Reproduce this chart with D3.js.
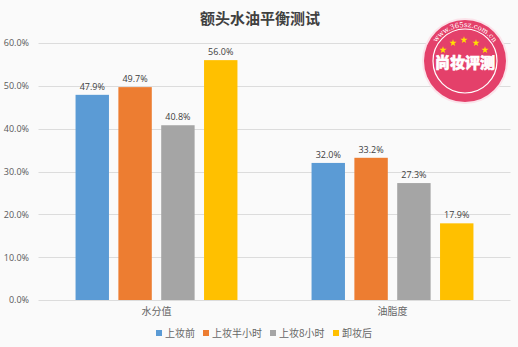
<!DOCTYPE html>
<html><head><meta charset="utf-8">
<script src="https://cdn.jsdelivr.net/npm/d3@7"></script>
<style>
html,body{margin:0;padding:0;background:#fafafa;}
svg{display:block;font-family:"Noto Sans CJK SC","Microsoft YaHei",sans-serif;}
</style></head><body>
<svg id="c" width="518" height="347"></svg>
<script>
const categories = ["水分值", "油脂度"];
const seriesNames = ["上妆前", "上妆半小时", "上妆8小时", "卸妆后"];
const seriesColors = ["#5B9BD5", "#ED7D31", "#A5A5A5", "#FFC000"];
const values上妆前 = [47.9, 32.0];
const values上妆半小时 = [49.7, 33.2];
const values上妆8小时 = [40.8, 27.3];
const values卸妆后 = [56.0, 17.9];
const yTicks = [0, 10, 20, 30, 40, 50, 60];
const title = "额头水油平衡测试";

const seriesValues = [values上妆前, values上妆半小时, values上妆8小时, values卸妆后];
const data = [];
categories.forEach((c, ci) => seriesNames.forEach((s, si) => data.push({cat: c, ser: s, val: seriesValues[si][ci], color: seriesColors[si]})));

const svg = d3.select("#c");
svg.append("rect").attr("width", 518).attr("height", 347).attr("fill", "#fafafa");

const pLeft = 38.5, pRight = 510.5, pTop = 43, pBottom = 300;
const y = d3.scaleLinear().domain([0, 60]).range([pBottom, pTop]);
const x0 = d3.scaleBand().domain(categories).range([pLeft, pRight]).paddingInner(0.314).paddingOuter(0.157);
const x1 = d3.scaleBand().domain(seriesNames).range([0, x0.bandwidth()]).paddingInner(0.22);

// gridlines
svg.append("g").selectAll("line").data(yTicks).join("line")
  .attr("x1", pLeft).attr("x2", pRight)
  .attr("y1", d => Math.round(y(d)) + 0.5).attr("y2", d => Math.round(y(d)) + 0.5)
  .attr("stroke", "#dcdcdc").attr("stroke-width", 1);

// y axis labels
const yAxis = d3.axisLeft(y).tickValues(yTicks).tickSize(0).tickPadding(0).tickFormat(d => d.toFixed(1) + "%");
const ya = svg.append("g").attr("transform", "translate(29,0)").call(yAxis);
ya.select(".domain").remove();
ya.selectAll("text").attr("fill", "#595959").attr("font-size", 9).attr("font-family", "Open Sans, sans-serif");

// bars
svg.append("g").selectAll("rect").data(data).join("rect")
  .attr("x", d => x0(d.cat) + x1(d.ser))
  .attr("y", d => y(d.val))
  .attr("width", x1.bandwidth())
  .attr("height", d => y(0) - y(d.val))
  .attr("fill", d => d.color);

// data labels
svg.append("g").selectAll("text").data(data).join("text")
  .attr("x", d => x0(d.cat) + x1(d.ser) + x1.bandwidth() / 2)
  .attr("y", d => y(d.val) - 5)
  .attr("text-anchor", "middle")
  .attr("font-size", 9).attr("fill", "#404040")
  .attr("font-family", "Open Sans, sans-serif")
  .text(d => d.val.toFixed(1) + "%");

// x axis category labels
const xAxis = d3.axisBottom(x0).tickSize(0).tickPadding(0);
const xa = svg.append("g").attr("transform", "translate(0,308)").call(xAxis);
xa.select(".domain").remove();
xa.selectAll("text").attr("fill", "#666").attr("font-size", 10).attr("font-family", "Noto Sans CJK SC, sans-serif");

// title
svg.append("text").attr("x", 260).attr("y", 24).attr("text-anchor", "middle")
  .attr("font-size", 15).attr("font-weight", "bold").attr("fill", "#404040").text(title);

// legend
const legendX = [156, 203, 270, 333];
const lg = svg.append("g").selectAll("g").data(seriesNames).join("g")
  .attr("transform", (d, i) => `translate(${legendX[i]},333)`);
lg.append("rect").attr("x", 0).attr("y", -3).attr("width", 6).attr("height", 6).attr("fill", (d, i) => seriesColors[i]);
lg.append("text").attr("x", 9).attr("y", 3.5).attr("font-size", 10).attr("fill", "#666").text(d => d);

// stamp logo
const stamp = svg.append("g").attr("transform", "translate(465,61)");
stamp.append("circle").attr("r", 43).attr("fill", "#fbe3ea");
stamp.append("circle").attr("r", 41).attr("fill", "#e4406a");
stamp.append("circle").attr("r", 32).attr("fill", "none").attr("stroke", "#fff").attr("stroke-width", 1.2);
stamp.append("path").attr("id", "arcp").attr("d", "M -34 0 A 34 34 0 0 1 34 0").attr("fill", "none");
stamp.append("text").attr("font-size", 7).attr("fill", "#fff").attr("font-family", "DejaVu Serif, serif")
  .append("textPath").attr("href", "#arcp").attr("startOffset", "50%").attr("text-anchor", "middle").text("www.365sz.com.cn");
const star = d3.symbol().type(d3.symbolStar).size(16);
[[-22, -11], [-12, -18], [-1, -21], [11, -18], [20, -11]].forEach(p =>
  stamp.append("path").attr("d", star()).attr("transform", `translate(${p[0]},${p[1]})`).attr("fill", "#ffe100"));
stamp.append("text").attr("x", 0).attr("y", 7).attr("text-anchor", "middle").attr("font-size", 15)
  .attr("font-weight", 900).attr("fill", "#fff").attr("stroke", "#fff").attr("stroke-width", 0.6)
  .attr("paint-order", "stroke").text("尚妆评测");
</script></body></html>
